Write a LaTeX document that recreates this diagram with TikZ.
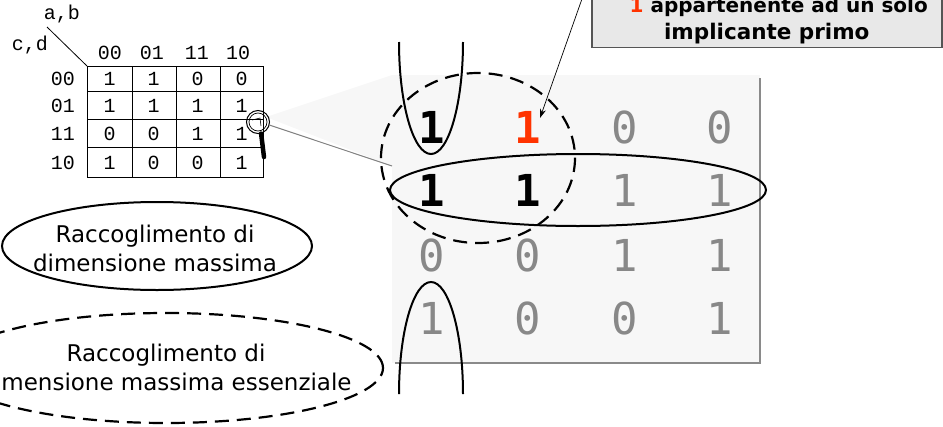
\documentclass[tikz,border=0pt]{standalone}
\usepackage{fontspec}
\setmainfont{DejaVu Sans}
\newfontfamily\kmono{Liberation Mono}
\newfontfamily\bigmono{DejaVu Sans Mono}
\usetikzlibrary{arrows.meta,shapes.geometric}
\definecolor{panelgray}{HTML}{F7F7F7}
\definecolor{digitgray}{HTML}{888888}
\definecolor{shadowgray}{HTML}{8A8A8A}
\definecolor{hot}{HTML}{FF3300}
\definecolor{boxgray}{HTML}{E8E8E8}
\definecolor{boxedge}{HTML}{555555}
\tikzset{
  smalldig/.style={font=\kmono\fontsize{20}{20}\selectfont, inner sep=0pt},
  bigdig/.style={font=\bigmono\fontsize{44}{44}\selectfont, inner sep=0pt, text=digitgray},
  bigbold/.style={font=\bigmono\bfseries\fontsize{44}{44}\selectfont, inner sep=0pt},
  loop/.style={line width=2pt},
  dloop/.style={line width=2.2pt, dash pattern=on 14pt off 8pt},
  legend/.style={align=center, font=\fontsize{23}{29}\selectfont, inner sep=0pt},
}
\begin{document}
\begin{tikzpicture}[x=1pt,y=-1pt]
\useasboundingbox (0,0) rectangle (943,426);
% zoom fan and panel
\coordinate (fanend) at (392,166);
\fill[panelgray] (266,117) -- (392,75) -- (fanend) -- cycle;
\fill[panelgray] (392,75) rectangle (760,363);
\draw[shadowgray, line width=2pt] (760,78) -- (760,363) -- (395,363);
% small K-map
\draw[line width=1pt] (87,66) rectangle (263,177);
\foreach \x in {132,176,220} \draw[line width=0.8pt] (\x,66) -- (\x,177);
\foreach \y in {91,119,147} \draw[line width=0.8pt] (87,\y) -- (263,\y);
\node[smalldig] (ab) at (62,14) {a,b};
\node[smalldig] (cd) at (30,45) {c,d};
\coordinate (corner) at (87,66);
\coordinate (diagtop) at (47,27);
\draw[line width=0.8pt] (diagtop) -- (corner);
\foreach \t/\x in {00/110,01/152,11/197,10/238} \node[smalldig] at (\x,53) {\t};
\foreach \t/\y in {00/79,01/106,11/134,10/163} \node[smalldig] at (63,\y) {\t};
\foreach \row/\y in {{1,1,0,0}/79,{1,1,1,1}/106,{0,0,1,1}/134,{1,0,0,1}/163}{
  \foreach \v [count=\c] in \row {
    \pgfmathsetmacro{\cx}{65.5+44*\c}
    \node[smalldig] at (\cx,\y) {\v};
  }
}
% magnifier
\node[circle, draw, line width=1pt, minimum size=23pt, inner sep=0pt] (mag) at (258,122) {};
\draw[line width=0.7pt] (mag.center) circle (9pt);
\draw[line width=0.6pt] (252,120) -- (260,118) -- (261,126);
\draw[line width=4.5pt, line cap=round] (mag.-75) -- (264,157);
\draw[gray, line width=1pt] (mag.-15) -- (fanend);
% big digits
\node[bigbold] (r1c1) at (432,127) {1};
\node[bigbold, text=hot] (r1c2) at (528,127) {1};
\node[bigdig] (r1c3) at (625,127) {0};
\node[bigdig] (r1c4) at (720,127) {0};
\node[bigbold] (r2c1) at (432,190) {1};
\node[bigbold] (r2c2) at (528,190) {1};
\node[bigdig] (r2c3) at (625,190) {1};
\node[bigdig] (r2c4) at (720,190) {1};
\node[bigdig] (r3c1) at (432,255) {0};
\node[bigdig] (r3c2) at (528,255) {0};
\node[bigdig] (r3c3) at (625,255) {1};
\node[bigdig] (r3c4) at (720,255) {1};
\node[bigdig] (r4c1) at (432,318) {1};
\node[bigdig] (r4c2) at (528,318) {0};
\node[bigdig] (r4c3) at (625,318) {0};
\node[bigdig] (r4c4) at (720,318) {1};
% loops
\draw[loop] (578,190) ellipse [x radius=188, y radius=36];
\draw[dloop] (478,158) ellipse [x radius=97, y radius=85];
\draw[loop] (399,42) arc [start angle=180, end angle=0, x radius=32, y radius=112];
\draw[loop] (399,394) arc [start angle=180, end angle=360, x radius=32, y radius=112];
% callout
\node[draw=boxedge, line width=1.5pt, fill=boxgray, anchor=south west, minimum width=350pt,
      inner xsep=5pt, inner ysep=3pt, align=center, font=\bfseries\fontsize{21.5}{27}\selectfont] (callout) at (591,48)
  {\hspace*{24pt}{\fontsize{20}{27}\selectfont\textcolor{hot}{1} appartenente ad un solo}\\implicante primo};
\coordinate (arrowstart) at (583,-4);
\coordinate (arrowtip) at (540,118);
\draw[line width=0.7pt, -{Stealth[length=9pt,width=6pt]}] (arrowstart) -- (arrowtip);
% legend
\node[ellipse, draw, line width=2pt, minimum width=310pt, minimum height=88pt, inner sep=0pt] (maxe) at (157,246) {};
\node[legend] (maxt) at (155,248) {Raccoglimento di\\dimensione massima};
\node[ellipse, draw, dloop, minimum width=434pt, minimum height=110pt, inner sep=0pt] (esse) at (166,368) {};
\node[legend] (esst) at (166,367) {Raccoglimento di\\dimensione massima essenziale};
\end{tikzpicture}
\end{document}
